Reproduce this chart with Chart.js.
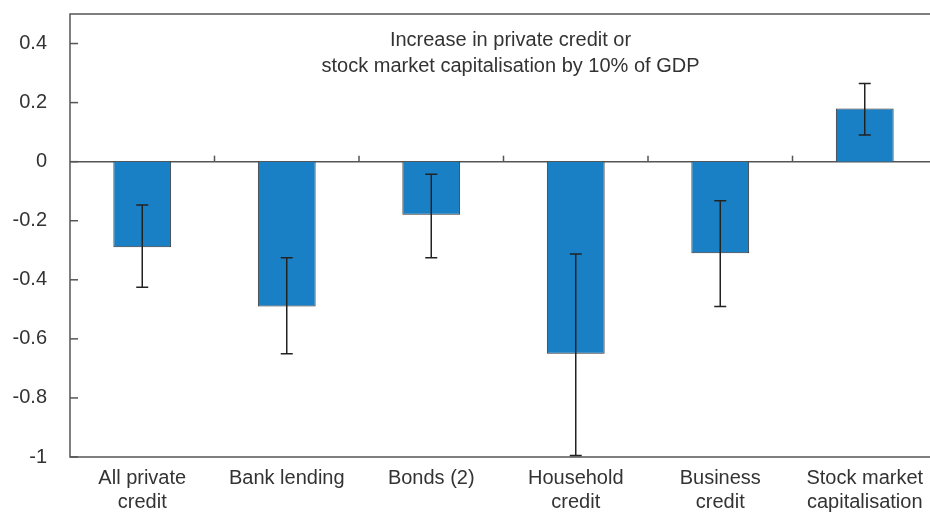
<!DOCTYPE html>
<html>
<head>
<meta charset="utf-8">
<script src="https://cdn.jsdelivr.net/npm/chart.js@4.4.0/dist/chart.umd.min.js"></script>
<style>
  html, body { margin: 0; padding: 0; background: #fff; overflow: hidden; }
  #wrap { width: 940px; height: 515px; }
</style>
</head>
<body>
<div id="wrap"><canvas id="chart" width="940" height="515"></canvas></div>
<script>
// categories and values
var categories = [
  ['All private', 'credit'],
  ['Bank lending'],
  ['Bonds (2)'],
  ['Household', 'credit'],
  ['Business', 'credit'],
  ['Stock market', 'capitalisation']
]
var values = [-0.29, -0.49, -0.18, -0.65, -0.31, 0.18]
var errLow = [-0.425, -0.65, -0.325, -0.995, -0.49, 0.09]
var errHigh = [-0.147, -0.325, -0.043, -0.313, -0.132, 0.265]
var yTicks = [-1, -0.8, -0.6, -0.4, -0.2, 0, 0.2, 0.4]
var titleLines = ['Increase in private credit or', 'stock market capitalisation by 10% of GDP']

var FONT = '"Liberation Sans", Arial, sans-serif'
var axisColor = '#555'

// frame, zero line, inward ticks, title
var decor = {
  id: 'decor',
  beforeDatasetsDraw: function (chart) {
    var ctx = chart.ctx
    var a = chart.chartArea
    var y = chart.scales.y
    var x = chart.scales.x
    ctx.save()
    ctx.strokeStyle = axisColor
    ctx.lineWidth = 1.5
    ctx.strokeRect(a.left, a.top, a.right - a.left, a.bottom - a.top)
    // zero line
    var y0 = y.getPixelForValue(0)
    ctx.beginPath()
    ctx.moveTo(a.left, y0)
    ctx.lineTo(a.right, y0)
    ctx.stroke()
    // y ticks pointing inward
    yTicks.forEach(function (v) {
      var py = y.getPixelForValue(v)
      ctx.beginPath()
      ctx.moveTo(a.left, py)
      ctx.lineTo(a.left + 8, py)
      ctx.stroke()
    })
    // category boundary ticks on the zero line
    for (var i = 0; i < categories.length - 1; i++) {
      var px = (x.getPixelForValue(i) + x.getPixelForValue(i + 1)) / 2
      ctx.beginPath()
      ctx.moveTo(px, y0)
      ctx.lineTo(px, y0 - 6)
      ctx.stroke()
    }
    // title inside plot
    ctx.fillStyle = '#333'
    ctx.font = '20px ' + FONT
    ctx.textAlign = 'center'
    ctx.textBaseline = 'alphabetic'
    var cx = (a.left + a.right) / 2 + 7
    titleLines.forEach(function (t, k) {
      ctx.fillText(t, cx, a.top + 32 + k * 26)
    })
    ctx.restore()
  },
  afterDatasetsDraw: function (chart) {
    var ctx = chart.ctx
    var y = chart.scales.y
    var meta = chart.getDatasetMeta(0)
    ctx.save()
    ctx.strokeStyle = '#222'
    ctx.lineWidth = 1.5
    meta.data.forEach(function (bar, i) {
      var lo = y.getPixelForValue(errLow[i])
      var hi = y.getPixelForValue(errHigh[i])
      ctx.beginPath()
      ctx.moveTo(bar.x, lo)
      ctx.lineTo(bar.x, hi)
      ctx.moveTo(bar.x - 6, lo)
      ctx.lineTo(bar.x + 6, lo)
      ctx.moveTo(bar.x - 6, hi)
      ctx.lineTo(bar.x + 6, hi)
      ctx.stroke()
    })
    ctx.restore()
  }
}

new Chart(document.getElementById('chart'), {
  type: 'bar',
  data: {
    labels: categories,
    datasets: [{
      data: values,
      backgroundColor: '#1a80c6',
      borderColor: '#333',
      borderWidth: 1,
      barPercentage: 0.4,
      categoryPercentage: 1
    }]
  },
  options: {
    responsive: false,
    animation: false,
    layout: { padding: { top: 14, right: 3, left: 0, bottom: 0 } },
    plugins: {
      legend: { display: false },
      tooltip: { enabled: false }
    },
    scales: {
      x: {
        grid: { display: false, drawTicks: false },
        border: { display: false },
        ticks: {
          color: '#333',
          padding: 9,
          maxRotation: 0,
          autoSkip: false,
          font: { family: FONT, size: 20, lineHeight: 1.2 }
        },
        afterFit: function (s) {
          s.height = 58
          s.paddingLeft = 0
          s.paddingRight = 0
        }
      },
      y: {
        min: -1,
        max: 0.5,
        grid: { display: false, drawTicks: false },
        border: { display: false },
        afterBuildTicks: function (s) {
          s.ticks = yTicks.map(function (v) { return { value: v } })
        },
        ticks: {
          color: '#333',
          padding: 23,
          font: { family: FONT, size: 20 },
          callback: function (v) { return String(v) }
        },
        afterFit: function (s) {
          s.width = 70
          s.paddingTop = 0
          s.paddingBottom = 0
        }
      }
    }
  },
  plugins: [decor]
})
</script>
</body>
</html>
